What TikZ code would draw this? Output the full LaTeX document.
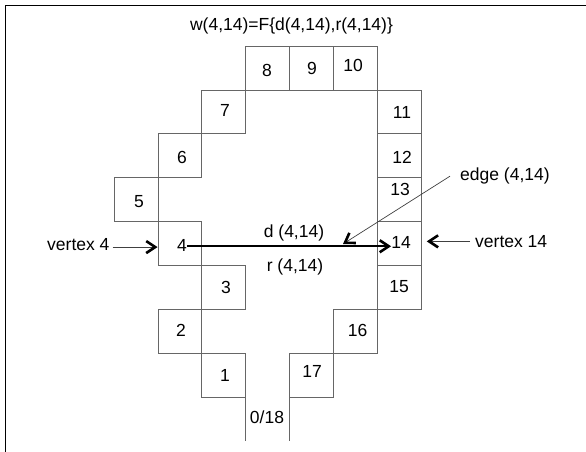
\documentclass[tikz,border=0pt]{standalone}
\usepackage{fontspec}
\setmainfont{Liberation Sans}
\usetikzlibrary{arrows.meta}
\begin{document}
\begin{tikzpicture}[x=1pt,y=-1pt,
  cellbox/.style={draw=black!60, line width=0.8pt, minimum width=43.9pt,
                  minimum height=43.9pt, inner sep=0pt},
  txt/.style={font=\fontsize{17.5}{20}\selectfont, inner sep=0pt, anchor=base},
  chev/.style={-{Straight Barb[length=9pt,width=12pt,line width=2.6pt,color=black]}},
  pointer/.style={chev, draw=black!75, line width=0.7pt},
  span/.style={chev, line width=2.4pt}]
\useasboundingbox (0,0) rectangle (586,452);

% outer frame (runs off the page to the right and bottom)
\draw[line width=1.6pt] (5.5,452) -- (5.5,5.5) -- (586,5.5);

% ring of cells: name / column / row
\foreach \n/\c/\r in {c8/3/0, c9/4/0, c10/5/0, c7/2/1, c11/6/1, c6/1/2, c12/6/2,
                      c5/0/3, c13/6/3, c4/1/4, c14/6/4, c3/2/5, c15/6/5,
                      c2/1/6, c16/5/6, c1/2/7, c17/4/7}
  \node[cellbox] (\n) at ({136+43.9*\c},{68+43.9*\r}) {};
% the start/end cell is open at the bottom
\node[minimum width=43.9pt, minimum height=43.9pt, inner sep=0pt] (c0) at ({136+43.9*3},{68+43.9*8}) {};
\draw[draw=black!60, line width=0.8pt] (c0.north west) -- (c0.south west)
      (c0.north east) -- (c0.south east);

% cell numbers
\node[txt] (n8)  at (267,76.8)  {8};
\node[txt] (n9)  at (312,74.3)  {9};
\node[txt] (n10) at (353,71.3)  {10};
\node[txt] (n7)  at (225,116.3) {7};
\node[txt] (n11) at (402,118.3) {11};
\node[txt] (n6)  at (182,163.3) {6};
\node[txt] (n12) at (402,163.3) {12};
\node[txt] (n5)  at (139,207.8) {5};
\node[txt] (n13) at (400,195.8) {13};
\node[txt] (n4)  at (182,251.3) {4};
\node[txt] (n14) at (401,248.3) {14};
\node[txt] (n3)  at (226,293.3) {3};
\node[txt] (n15) at (399,292.3) {15};
\node[txt] (n2)  at (181,336.3) {2};
\node[txt] (n16) at (357.5,336.3) {16};
\node[txt] (n1)  at (225,381.3) {1};
\node[txt] (n17) at (312,377.3) {17};
\node[txt] (n0)  at (267,423.3) {0/18};

% annotations
\node[txt] (wlbl) at (291.5,31) {w(4,14)=F\{d(4,14),r(4,14)\}};
\node[txt] (dlbl) at (294,237) {d (4,14)};
\node[txt] (rlbl) at (295,271.5) {r (4,14)};
\node[txt, anchor=base west] (v4lbl)  at (47,250) {vertex 4};
\node[txt, anchor=base west] (v14lbl) at (475,247.3) {vertex 14};
\node[txt, anchor=base west] (elbl)   at (460,180.7) {edge (4,14)};

% connectors
\draw[span] ([yshift=-1pt]n4.east) -- ([yshift=-1pt]n4.east -| n14.west);
\draw[pointer, shorten <=3pt] ([yshift=-3pt]v4lbl.east) -- ([yshift=-3pt]v4lbl.east -| c4.west);
\draw[pointer, shorten <=5pt, shorten >=5pt] (v14lbl.west) -- (v14lbl.west -| c14.east);
\coordinate (etip) at (343,244);
\draw[pointer] ([xshift=-10pt]elbl.west) -- (etip);
\end{tikzpicture}
\end{document}
